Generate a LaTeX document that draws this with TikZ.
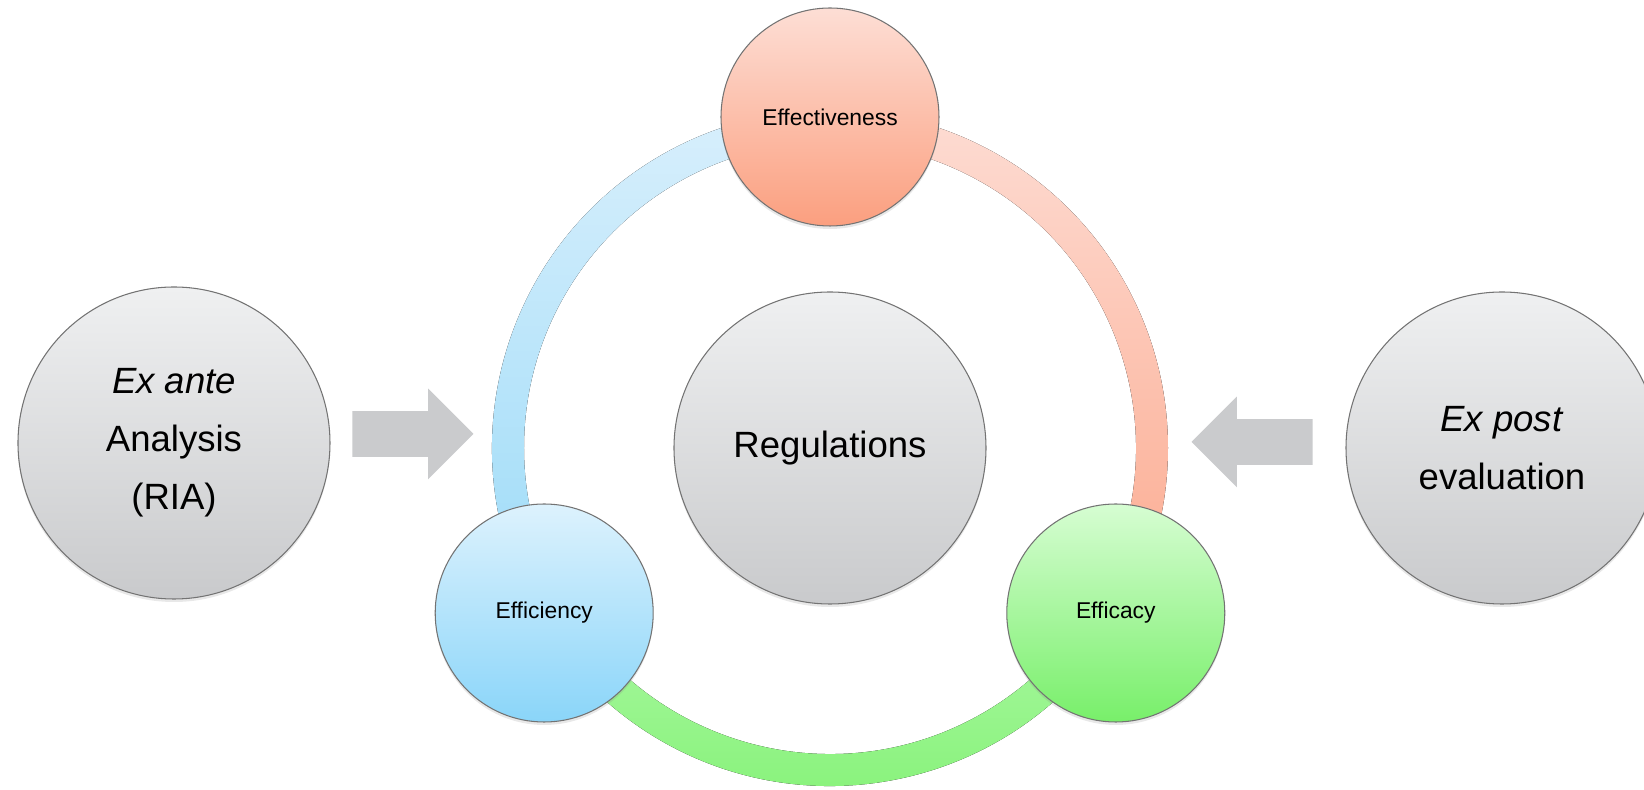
\documentclass[tikz,border=0pt]{standalone}
\usepackage{fontspec}
\setmainfont{Liberation Sans}
\usepackage{tikz}
\usetikzlibrary{shapes.arrows,shadows}

\definecolor{greyTop}{HTML}{EFF0F1}
\definecolor{greyBot}{HTML}{C9CACC}
\definecolor{arrowGrey}{HTML}{CACBCD}
\definecolor{redTop}{HTML}{FDDED5}
\definecolor{redBot}{HTML}{FB9F7F}
\definecolor{blueTop}{HTML}{DDF2FD}
\definecolor{blueBot}{HTML}{8AD5F9}
\definecolor{greenTop}{HTML}{D6FDD2}
\definecolor{greenBot}{HTML}{78EF6A}
\definecolor{ringBlueTop}{HTML}{D8EFFC}
\definecolor{ringBlueBot}{HTML}{9CDBF8}
\definecolor{ringRedTop}{HTML}{FDDCD3}
\definecolor{ringRedBot}{HTML}{FCAA8F}
\definecolor{ringGreenTop}{HTML}{ABF8A3}
\definecolor{ringGreenBot}{HTML}{82F174}

\begin{document}
\begin{tikzpicture}[
		bigcircle/.style={circle,draw=black!55,line width=0.6pt,minimum size=6.24cm,top color=greyTop,bottom color=greyBot,
			drop shadow={opacity=0.18,shadow xshift=0pt,shadow yshift=-0.06cm},align=center,font=\fontsize{20.8}{33}\selectfont},
		smallcircle/.style={circle,draw=black!55,line width=0.6pt,minimum size=4.36cm,
			drop shadow={opacity=0.18,shadow xshift=0pt,shadow yshift=-0.06cm},font=\fontsize{13}{15}\selectfont},
		blockarrow/.style={single arrow,fill=arrowGrey,inner sep=0.45cm,single arrow head extend=0.45cm,minimum height=2.42cm,minimum width=0pt,anchor=tip}
	]
		\useasboundingbox (-16.6,-6.84) rectangle (16.28,8.96);
		\foreach \from/\to/\ctop/\cbot in {90/210/ringBlueTop/ringBlueBot,-30/90/ringRedTop/ringRedBot,210/330/ringGreenTop/ringGreenBot}{
			\fill[top color=\ctop,bottom color=\cbot] (\from:6.12) arc (\from:\to:6.12) -- (\to:6.76) arc (\to:\from:6.76) -- cycle;
		};
		\node[bigcircle] (regulations) at (0,0) {Regulations};
		\node[smallcircle,top color=redTop,bottom color=redBot] (effectiveness) at (90:6.62) {Effectiveness};
		\node[smallcircle,top color=blueTop,bottom color=blueBot] (efficiency) at (210:6.6) {Efficiency};
		\node[smallcircle,top color=greenTop,bottom color=greenBot] (efficacy) at (330:6.6) {Efficacy};
		\node[bigcircle] (exante) at (-13.12,0.1) {\textit{Ex ante}\\Analysis\\(RIA)};
		\node[bigcircle] (expost) at (13.44,0) {\textit{Ex post}\\evaluation};
		\node[blockarrow] (antearrow) at (-7.12,0.28) {};
		\node[blockarrow,shape border rotate=180] (postarrow) at (7.22,0.12) {};
	\end{tikzpicture}
\end{document}
